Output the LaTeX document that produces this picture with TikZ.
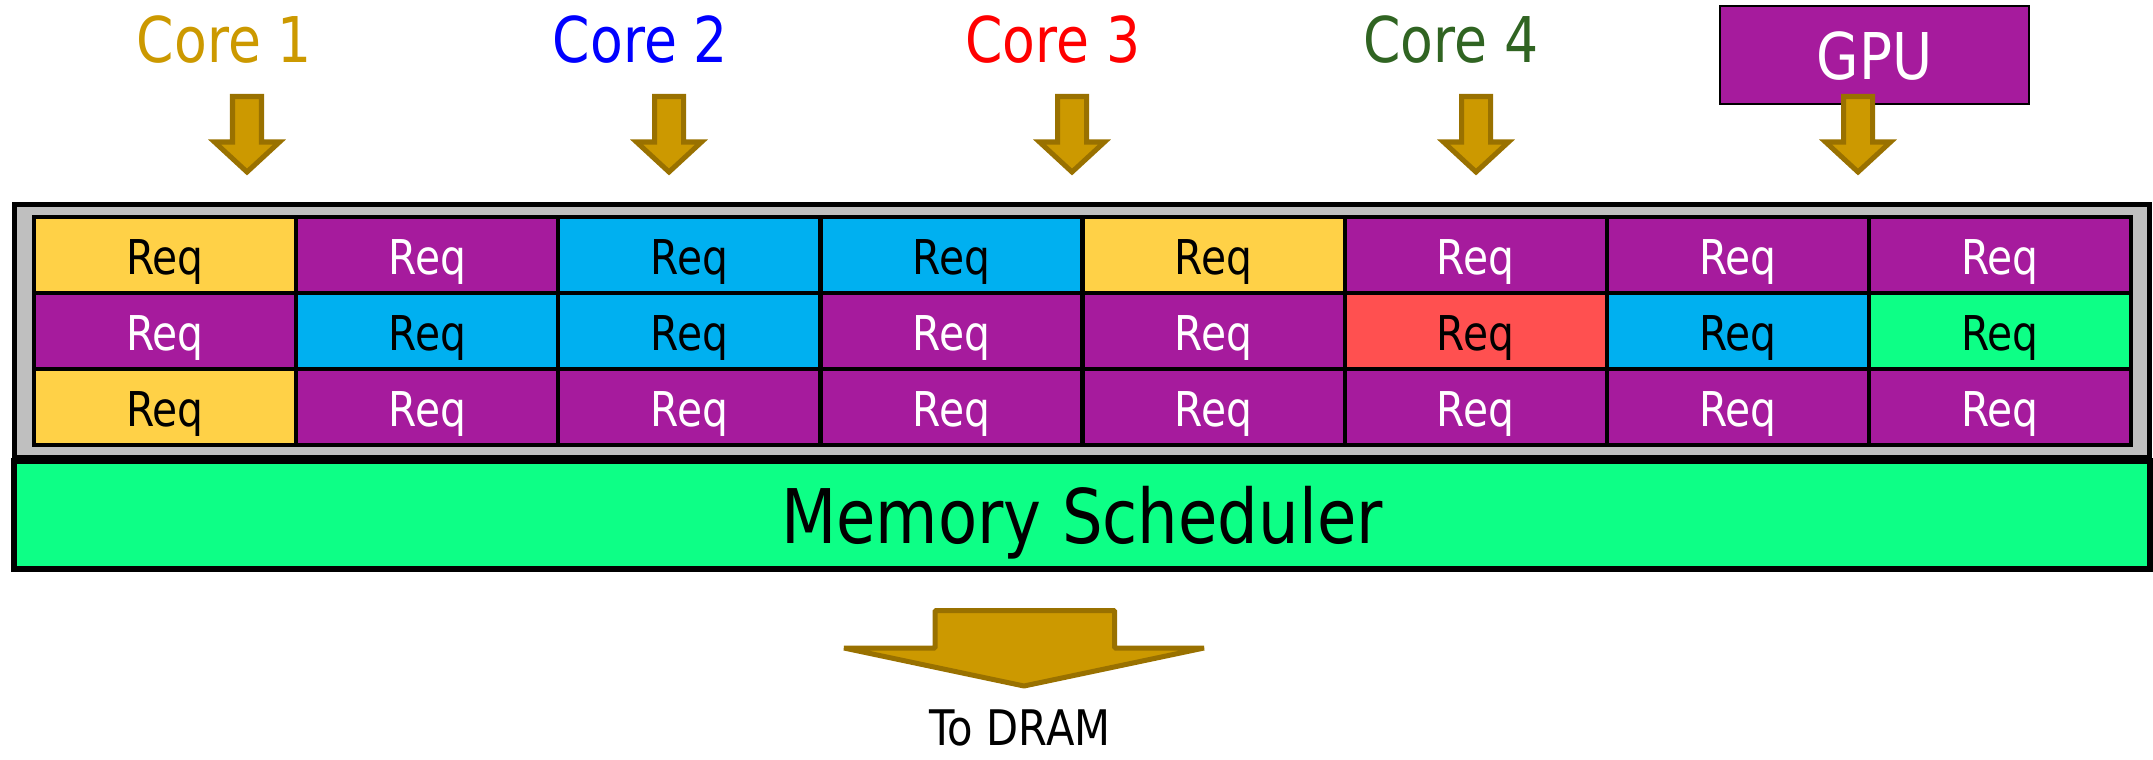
\documentclass[tikz,border=0pt]{standalone}
\usepackage{fontspec}
\setmainfont{DejaVu Sans}[FakeStretch=0.85]
\definecolor{cgold}{HTML}{CC9900}
\definecolor{cgoldd}{HTML}{997100}
\definecolor{cblue}{HTML}{0000FF}
\definecolor{cred}{HTML}{FF0000}
\definecolor{cdgreen}{RGB}{48,100,34}
\definecolor{cellP}{HTML}{A61B9D}
\definecolor{cellY}{HTML}{FFD147}
\definecolor{cellC}{HTML}{00B0F0}
\definecolor{cellR}{HTML}{FF5050}
\definecolor{cellG}{HTML}{0DFF86}
\definecolor{cgray}{HTML}{BFBFBF}
\colorlet{txtP}{white}
\colorlet{txtY}{black}
\colorlet{txtC}{black}
\colorlet{txtR}{black}
\colorlet{txtG}{black}
\begin{document}
\begin{tikzpicture}[x=0.02cm,y=-0.02cm,
  corelabel/.style={anchor=base, inner sep=0pt, font=\fontsize{35.9pt}{40pt}\selectfont},
  reqtext/.style={anchor=base, inner sep=0pt, font=\fontsize{27.3pt}{30pt}\selectfont},
  cellbox/.style={draw=black, line width=2.4pt, minimum width=5.2425cm, minimum height=1.52cm, inner sep=0pt, outer sep=0pt},
  blockarrowstyle/.style={fill=cgold, draw=cgoldd, line width=2.85pt},
  smallarrow/.pic={
    \filldraw[blockarrowstyle] (-14.5,96.5) -- (14.5,96.5) -- (14.5,142) -- (32.5,142) -- (0,172) -- (-32.5,142) -- (-14.5,142) -- cycle;
  }
]
\useasboundingbox (0,0) rectangle (2153,760);

% queue frame
\node[draw=black, fill=cgray, line width=2.85pt, minimum width=42.71cm, minimum height=5.07cm, inner sep=0pt] (queue) at (1082.25,331.25) {};

% request cells
\foreach \row/\cols in {1/{Y,P,C,C,Y,P,P,P},2/{P,C,C,P,P,R,C,G},3/{Y,P,P,P,P,P,P,P}}{
  \foreach \c [count=\i] in \cols {
    \node[cellbox, fill=cell\c] (c\row\i) at ({34+262.125*(\i-0.5)},{217+76*(\row-0.5)}) {};
    \node[reqtext, text=txt\c] (t\row\i) at ({34+262.125*(\i-0.5)},{217+76*(\row-0.5)+19.5}) {Req};
  }
}

% memory scheduler
\node[draw=black, fill=cellG, line width=3.4pt, minimum width=42.73cm, minimum height=2.17cm, inner sep=0pt] (sched) at (1081.75,514.75) {};
\node[anchor=base, inner sep=0pt, font=\fontsize{42.9pt}{46pt}\selectfont] (schedtxt) at (1082,543) {Memory Scheduler};

% GPU
\node[draw=black, fill=cellP, line width=0.7pt, minimum width=6.18cm, minimum height=1.96cm, inner sep=0pt] (gpu) at (1874.5,55) {};
\node[anchor=base, inner sep=0pt, text=white, font=\fontsize{36.7pt}{40pt}\selectfont] (gputxt) at (1874.5,80) {GPU};

% core labels
\node[corelabel, text=cgold] (core1) at (224.5,63) {Core 1};
\node[corelabel, text=cblue] (core2) at (640.5,63) {Core 2};
\node[corelabel, text=cred] (core3) at (1053,63) {Core 3};
\node[corelabel, text=cdgreen] (core4) at (1451,63) {Core 4};

% arrows into the queue
\foreach \ax in {247,669,1072,1476,1858}{
  \pic at (\ax,0) {smallarrow};
}

% arrow to DRAM
\filldraw[blockarrowstyle, line join=bevel] (935,610.5) -- (1114.5,610.5) -- (1114.5,648) -- (1204,648) -- (1024,686) -- (844,648) -- (935,648) -- cycle;
\node[anchor=base, inner sep=0pt, font=\fontsize{27.9pt}{30pt}\selectfont] (dram) at (1020,745) {To DRAM};
\end{tikzpicture}
\end{document}
